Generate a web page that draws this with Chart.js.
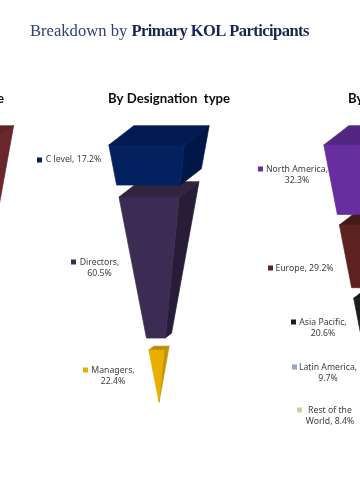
<!DOCTYPE html>
<html><head><meta charset="utf-8">
<style>html,body{margin:0;padding:0;background:#fff;overflow:hidden;width:360px;height:504px}
#wrap{position:absolute;left:0;top:0;width:360px;height:504px;overflow:hidden}
canvas{position:absolute;left:-176px;top:0}</style>
<script src="https://cdn.jsdelivr.net/npm/chart.js@4/dist/chart.umd.min.js"></script>
</head><body><div id="wrap"><canvas id="c" width="645" height="504"></canvas></div>
<script>
const funnelNames = ['By Company type','By Designation  type','By Region'];
const companyCategories = ['Company (first tier)'];
const companyValues = [40];
const designationCategories = ['C level','Directors','Managers'];
const designationValues = [17.2,60.5,22.4];
const regionCategories = ['North America','Europe','Asia Pacific','Latin America','Rest of the World'];
const regionValues = [32.3,29.2,20.6,9.7,8.4];

const companyColors = [['#6b2a2c','#6a2729','#602325']];
const designationColors = [['#03215f','#011747','#021a50'],['#3c2b52','#271d38','#32243f'],['#e8ae00','#c49300','#b98c06']];
const regionColors = [['#682d9e','#4a2072','#522682'],['#5c2220','#3e1715','#441918'],['#1d1d1d','#0e0e0e','#141414'],['#94a9cb','#6f809c','#7c8eaa'],['#c3d69b','#93a275','#a3b282']];

const OFFSET = 176, GEO = {sl:.195, sr:.098, dx:.097, dy:.075};
const TOP = 145;
const pxPerShare = [2.33,2.33,2.15], gapPx = [12,12,10.5], apexDxByFunnel = [32,12.5,12.5];
const funnels = [
  {cats:companyCategories, vals:companyValues, colors:companyColors},
  {cats:designationCategories, vals:designationValues, colors:designationColors},
  {cats:regionCategories, vals:regionValues, colors:regionColors}];
const axisIds = ['yCompany','yDesignation','yRegion'];

const datasets = [], scales = {x:{type:'category',display:false,offset:true,grid:{display:false}}};
funnels.forEach((f,fi)=>{
  const k = pxPerShare[fi], gap = gapPx[fi]/k;
  scales[axisIds[fi]] = {type:'linear',display:false,reverse:true,min:-TOP/k,max:(504-TOP)/k};
  let cum = 0;
  f.vals.forEach((v,si)=>{
    const row = funnelNames.map(()=>null);
    row[fi] = [cum, cum+v];
    datasets.push({label:f.cats[si],data:row,yAxisID:axisIds[fi],backgroundColor:'rgba(0,0,0,0)',borderWidth:0,grouped:false,funnel:fi,segment:si,faceColors:f.colors[si]});
    cum += v + gap;
  });
});

function poly(ctx,pts,fill){ctx.beginPath();pts.forEach((p,i)=>i?ctx.lineTo(p[0],p[1]):ctx.moveTo(p[0],p[1]));ctx.closePath();ctx.fillStyle=fill;ctx.strokeStyle=fill;ctx.lineWidth=.7;ctx.lineJoin='round';ctx.fill();ctx.stroke();}

const labelLayout = [
 {text:['C level, 17.2%'],mx:37,my:160,cx:73.5,y:160,c:'#03215f'},
 {text:['Directors,','60.5%'],mx:71,my:262,cx:99.5,y:262.5,c:'#3c2b52'},
 {text:['Managers,','22.4%'],mx:83,my:370,cx:113,y:371,c:'#e8ae00'},
 {text:['North America,','32.3%'],mx:258,my:169,cx:297,y:170,c:'#682d9e'},
 {text:['Europe, 29.2%'],mx:268,my:268,cx:304.5,y:269,c:'#5c2220'},
 {text:['Asia Pacific,','20.6%'],mx:291,my:322,cx:323,y:323,c:'#1d1d1d'},
 {text:['Latin America,','9.7%'],mx:292,my:367,cx:328,y:368,c:'#94a9cb'},
 {text:['Rest of the','World, 8.4%'],mx:297,my:410,cx:330,y:411,c:'#c3d69b'}];

const funnelPlugin = {id:'funnel',
 beforeDatasetsDraw(chart){
  const ctx = chart.ctx; ctx.save();
  const apexY = {};
  chart.data.datasets.forEach((ds,i)=>{const el=chart.getDatasetMeta(i).data[ds.funnel]; apexY[ds.funnel]=Math.max(apexY[ds.funnel]||0,Math.max(el.y,el.base));});
  apexY[0]=402;
  for(let i=chart.data.datasets.length-1;i>=0;i--){
    const ds=chart.data.datasets[i], el=chart.getDatasetMeta(i).data[ds.funnel];
    const ax=el.x+apexDxByFunnel[ds.funnel], ay=apexY[ds.funnel];
    const t=Math.min(el.y,el.base), b=Math.max(el.y,el.base);
    const fl=y=>[ax-GEO.sl*(ay-y),y], fr=y=>[ax+GEO.sr*(ay-y),y];
    const back=p=>[p[0]+GEO.dx*(ay-p[1]),p[1]-GEO.dy*(ay-p[1])];
    const [front,side,top]=ds.faceColors;
    poly(ctx,[fr(t),back(fr(t)),back(fr(b)),fr(b)],side);
    poly(ctx,[fl(t),back(fl(t)),back(fr(t)),fr(t)],top);
    poly(ctx,[fl(t),fr(t),fr(b),fl(b)],front);
  }
  ctx.restore();
 },
 afterDraw(chart){
  const ctx=chart.ctx; ctx.save();
  const X=x=>x+OFFSET;
  ctx.textBaseline='alphabetic'; ctx.textAlign='left';
  ctx.font='16.6px "Liberation Serif"'; ctx.fillStyle='#2c4270';
  const a='Breakdown by '; ctx.fillText(a,X(30),36);
  const w=ctx.measureText(a).width;
  ctx.font='bold 16.5px "Liberation Serif"'; ctx.fillStyle='#15264f';
  ctx.letterSpacing='-0.55px';
  ctx.fillText('Primary KOL Participants',X(30)+w,36);
  ctx.letterSpacing='0px';
  ctx.font='bold 13.2px Lato'; ctx.fillStyle='#0d0d0d';
  ctx.textAlign='right'; ctx.fillText(funnelNames[0],X(4),103);
  ctx.textAlign='left'; ctx.fillText(funnelNames[1],X(108),103);
  ctx.fillText(funnelNames[2],X(348),103);
  ctx.font='8.7px "Noto Sans"'; ctx.textAlign='center'; ctx.textBaseline='middle';
  labelLayout.forEach(l=>{
    ctx.fillStyle=l.c; ctx.fillRect(X(l.mx),l.my-2.5,5,5);
    ctx.fillStyle='#404040';
    l.text.forEach((s,j)=>ctx.fillText(s,X(l.cx),l.y+j*11));
  });
  ctx.restore();
 }};

new Chart(document.getElementById('c'),{
 type:'bar',
 data:{labels:funnelNames,datasets},
 options:{responsive:false,animation:false,layout:{padding:0},
  plugins:{legend:{display:false},title:{display:false},tooltip:{enabled:false}},scales},
 plugins:[funnelPlugin]});
</script></body></html>
